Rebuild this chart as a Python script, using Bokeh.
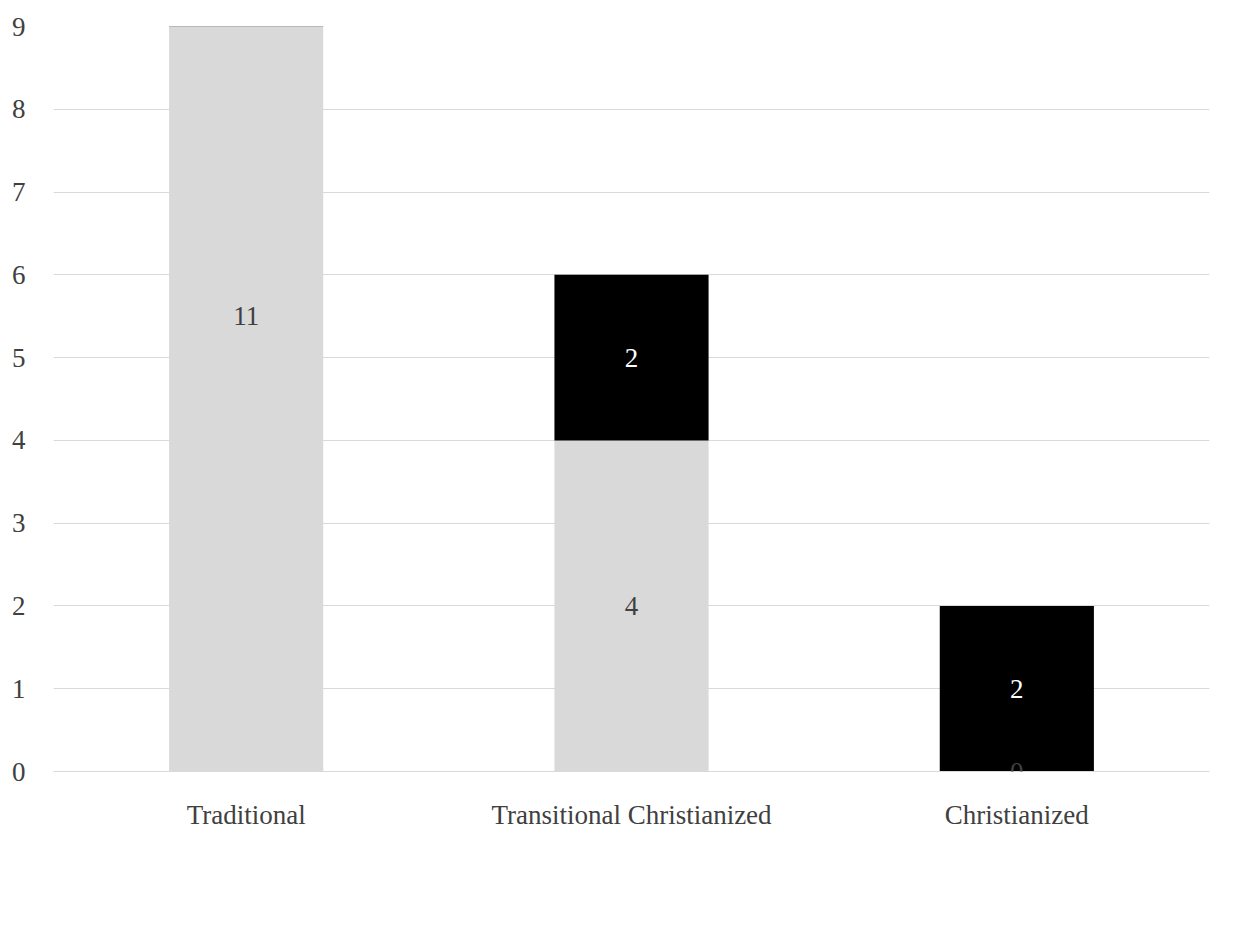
from bokeh.plotting import figure
from bokeh.models import ColumnDataSource, LabelSet, Legend, LegendItem, Range1d, FixedTicker
from bokeh.embed import file_html
from bokeh.resources import INLINE

categories = ["Traditional", "Transitional Christianized", "Christianized"]
political = [11, 4, 0]
greed = [0, 2, 2]
series = ["Political ambition", "(Christian) greed"]
colors = ["#d9d9d9", "#000000"]

src = ColumnDataSource(dict(cat=categories, political=political, greed=greed))

p = figure(x_range=categories, y_range=Range1d(0, 9), width=1232, height=912,
           frame_width=1156, frame_height=745,
           output_backend="svg", toolbar_location=None,
           min_border_left=53, min_border_right=23, min_border_top=26, min_border_bottom=141)
p.outline_line_color = None
p.border_fill_color = "white"

r = p.vbar_stack(["political", "greed"], x="cat", width=0.4, color=colors, source=src, line_color=None)

lx, ly, lt, lc = [], [], [], []
for c, a, b in zip(categories, political, greed):
    lx.append(c); ly.append(a / 2); lt.append(str(a)); lc.append("#404040")
    if b:
        lx.append(c); ly.append(a + b / 2); lt.append(str(b)); lc.append("white")
lsrc = ColumnDataSource(dict(x=lx, y=ly, t=lt, c=lc))
p.add_layout(LabelSet(x="x", y="y", text="t", source=lsrc, text_color="c",
                      text_align="center", text_baseline="middle",
                      text_font="Liberation Serif", text_font_size="27px"))

p.yaxis.ticker = FixedTicker(ticks=list(range(10)))
p.yaxis.axis_line_color = None
p.yaxis.major_tick_line_color = None
p.yaxis.minor_tick_line_color = None
p.xaxis.major_tick_line_color = None
p.xaxis.axis_line_color = "#d9d9d9"
for ax in (p.xaxis, p.yaxis):
    ax.major_label_text_font = "Liberation Serif"
    ax.major_label_text_font_size = "27px"
    ax.major_label_text_color = "#404040"
p.yaxis.major_label_standoff = 22
p.xaxis.major_label_standoff = 22
p.xgrid.grid_line_color = None
p.ygrid.grid_line_color = "#d9d9d9"

leg = Legend(items=[LegendItem(label=s, renderers=[rr]) for s, rr in zip(series, r)],
             orientation="horizontal", location=(248, -118),
             label_text_font="Liberation Serif", label_text_font_size="32px",
             label_text_color="#404040", glyph_width=22, glyph_height=22,
             spacing=40, border_line_color=None, background_fill_alpha=0,
             margin=0, padding=0)
p.add_layout(leg, "center")

html = file_html(p, INLINE)
html = html.replace("<body>", '<body style="margin:8px"><div style="border:1px solid #d9d9d9;display:inline-block">', 1)
open("out.html", "w").write(html)
